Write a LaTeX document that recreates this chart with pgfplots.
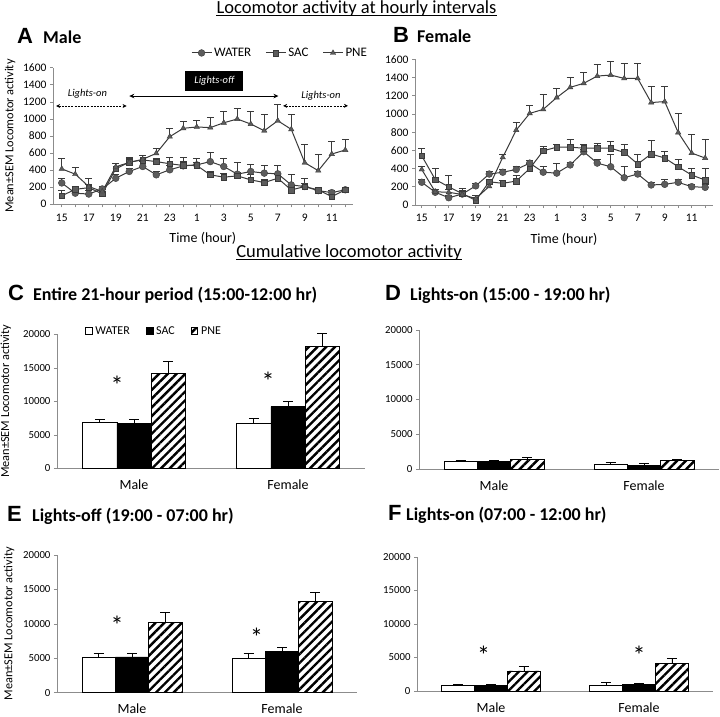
\documentclass[border=0pt]{standalone}
\usepackage{pgfplots}
\pgfplotsset{compat=1.18}
\usepackage{pgfplotstable}
\usepackage{fontspec}
\setmainfont{Carlito}
\newfontfamily\arialfont{Liberation Sans}
\usetikzlibrary{patterns.meta,arrows.meta}

\definecolor{ln}{HTML}{3A3A3A}
\definecolor{mk}{HTML}{5C5C5C}
\definecolor{axg}{HTML}{8C8C8C}

% hourly data, x = hour index (0 = 15:00 ... 21 = 12:00)
\pgfplotstableread{
x W We S Se P Pe
0 250 50 100 60 415 125
1 130 40 175 40 353 75
2 120 40 195 40 208 95
3 180 30 122 30 150 30
4 305 40 416 60 440 40
5 385 40 494 40 490 60
6 443 60 520 50 527 50
7 345 40 500 40 597 60
8 404 50 475 75 792 100
9 450 95 455 50 890 85
10 462 80 455 40 906 80
11 500 110 345 40 898 125
12 443 100 318 40 955 135
13 353 135 333 40 999 130
14 384 80 286 60 940 145
15 365 95 255 40 862 190
16 357 100 305 50 979 190
17 227 125 168 40 878 180
18 208 100 208 40 487 215
19 160 30 168 30 394 185
20 137 30 90 30 589 145
21 170 20 170 20 636 120
}\maledata

\pgfplotstableread{
x W We S Se P Pe
0 250 30 540 85 390 30
1 140 30 280 120 145 30
2 80 30 200 120 140 30
3 120 30 125 60 115 40
4 210 30 50 60 70 30
5 340 30 255 30 205 30
6 360 30 238 30 523 30
7 390 30 263 60 823 80
8 460 30 400 60 1006 85
9 360 60 595 50 1050 160
10 350 110 635 30 1180 95
11 440 30 635 85 1292 110
12 585 30 624 40 1336 120
13 460 40 624 50 1416 130
14 420 140 624 70 1427 155
15 300 125 577 90 1390 160
16 340 30 450 110 1390 165
17 220 30 560 145 1125 175
18 227 50 516 70 1136 165
19 249 30 420 80 796 210
20 201 30 329 75 570 210
21 194 30 274 130 516 205
}\femaledata

\pgfplotsset{
  linepanel/.style={
    scale only axis, anchor=south west, clip=false,
    axis x line*=bottom, axis y line*=left,
    axis line style={line width=0.6pt, draw=axg},
    ymin=0, ymax=1600, ytick={0,200,...,1600},
    xtick={0,2,...,20}, xticklabels={15,17,19,21,23,1,3,5,7,9,11},
    minor xtick={1,3,...,21},
    tick align=outside, major tick length=3pt, minor tick length=3pt,
    tick style={draw=axg, line width=0.6pt},
    ticklabel style={font=\fontsize{11.5}{13}\selectfont},
    xticklabel style={yshift=-3pt},
    /pgf/number format/assume math mode=true,
    /pgf/number format/1000 sep={},
    xlabel={Time (hour)},
    xlabel style={font=\fontsize{14}{16}\selectfont, yshift=-4pt},
  },
  hourly/.style={ln, line width=1pt,
    error bars/y dir=plus, error bars/y explicit,
    error bars/error bar style={ln, line width=0.8pt},
    error bars/error mark options={rotate=90, ln, mark size=3.5pt, line width=0.8pt}},
  water/.style={hourly, mark=*, mark size=3.4pt, mark options={fill=mk, draw=ln, line width=0.4pt}},
  sac/.style={hourly, mark=square*, mark size=2.8pt, mark options={fill=mk, draw=ln, line width=0.4pt}},
  pne/.style={hourly, mark=triangle*, mark size=3.1pt, mark options={fill=mk, draw=ln, line width=0.4pt}},
  barpanel/.style={
    scale only axis, anchor=south west, clip=false,
    ybar=0pt,
    axis x line*=bottom, axis y line*=left,
    axis line style={line width=0.6pt, draw=axg},
    ymin=0, ymax=20000, ytick={0,5000,...,20000},
    scaled y ticks=false,
    xmin=-0.5, xmax=1.5, xtick={0,1}, xticklabels={Male,Female},
    x tick style={draw=none},
    y tick style={draw=axg, line width=0.6pt},
    tick align=outside, major tick length=3pt,
    yticklabel style={font=\fontsize{10.8}{12}\selectfont},
    xticklabel style={font=\fontsize{14}{16}\selectfont, yshift=-5pt},
    /pgf/number format/assume math mode=true,
    /pgf/number format/1000 sep={},
  },
  sqlegend/.style={legend image code/.code={\draw[##1, line width=0.6pt] (0pt,-3.3pt) rectangle (6.7pt,3.3pt);}},
  barerr/.style={error bars/y dir=plus, error bars/y explicit,
    error bars/error bar style={black, line width=0.8pt},
    error bars/error mark options={rotate=90, black, mark size=5pt, line width=0.8pt}},
  wbar/.style={fill=white, draw=black, line width=0.8pt, barerr, sqlegend},
  sbar/.style={fill=black, draw=black, line width=0.8pt, barerr, sqlegend},
  pbar/.style={draw=black, line width=0.8pt, pattern={Lines[angle=45,distance=6.2pt,line width=2.4pt]}, barerr, sqlegend},
}
\tikzset{sigstar/.style={font=\fontsize{26}{26}\selectfont, yshift=-4pt}}

\newcommand{\ttl}{\fontsize{18}{20}\selectfont\bfseries}
\newcommand{\ltr}{\arialfont\bfseries\fontsize{22}{24}\selectfont}
\newcommand{\ylab}{Mean±SEM Locomotor activity}

\begin{document}
\begin{tikzpicture}
\useasboundingbox (0,0) rectangle (720pt,-717pt);

% headings
\node[anchor=base, inner sep=0, font=\fontsize{18.5}{20}\selectfont] (h1) at (356.5pt,-13.3pt) {Locomotor activity at hourly intervals};
\draw[line width=0.7pt] ([yshift=-2pt]h1.base west) -- ([yshift=-2pt]h1.base east);
\node[anchor=base, inner sep=0, font=\fontsize{18.5}{20}\selectfont] (h2) at (349pt,-257pt) {Cumulative locomotor activity};
\draw[line width=0.7pt] ([yshift=-2.5pt]h2.base west) -- ([yshift=-2.5pt]h2.base east);

\node[anchor=base west, inner sep=0, font=\ltr] at (17pt,-43.3pt) {A};
\node[anchor=base west, inner sep=0, font=\ttl] at (43pt,-43.3pt) {Male};
\node[anchor=base west, inner sep=0, font=\ltr] at (393pt,-42.7pt) {B};
\node[anchor=base west, inner sep=0, font=\ttl] at (417pt,-42.7pt) {Female};
\node[anchor=base west, inner sep=0, font=\ltr] at (8pt,-300pt) {C};
\node[anchor=base west, inner sep=0, font=\ttl] at (33pt,-300pt) {Entire 21-hour period (15:00-12:00 hr)};
\node[anchor=base west, inner sep=0, font=\ltr] at (385pt,-300pt) {D};
\node[anchor=base west, inner sep=0, font=\ttl] at (410pt,-300pt) {Lights-on (15:00 - 19:00 hr)};
\node[anchor=base west, inner sep=0, font=\ltr] at (7pt,-521.7pt) {E};
\node[anchor=base west, inner sep=0, font=\ttl] at (32pt,-521.7pt) {Lights-off (19:00 - 07:00 hr)};
\node[anchor=base west, inner sep=0, font=\ltr] at (388pt,-520pt) {F};
\node[anchor=base west, inner sep=0, font=\ttl] at (406pt,-520pt) {Lights-on (07:00 - 12:00 hr)};

% A: male hourly
\begin{axis}[linepanel, at={(53pt,-204.3pt)}, width=299.7pt, height=136.6pt,
  xmin=-0.65, xmax=21.55,
  ylabel={\ylab},
  ylabel style={at={(axis description cs:-0.1435,0.5)}, anchor=center, font=\fontsize{12.3}{14}\selectfont},
  legend columns=3,
  legend style={draw=none, fill=none, at={(0.45,1.108)}, anchor=west,
    font=\fontsize{13}{15}\selectfont,
    /tikz/every even column/.append style={column sep=12pt}},
  legend image code/.code={\draw[mark repeat=2,mark phase=2,#1] plot coordinates {(0pt,0pt) (10pt,0pt) (20pt,0pt)};},
]
\addplot[water] table[x=x, y=W, y error=We] {\maledata};
\addplot[sac] table[x=x, y=S, y error=Se] {\maledata};
\addplot[pne] table[x=x, y=P, y error=Pe] {\maledata};
\legend{WATER, SAC, PNE}
\draw[<->, >={Stealth[length=5pt,width=4.5pt]}, line width=0.8pt] (axis cs:5.0,1268) -- (axis cs:16.05,1268);
\draw[<->, >={Stealth[length=4pt,width=4pt]}, line width=0.7pt, dash pattern=on 2pt off 1.2pt] (axis cs:-0.42,1151) -- (axis cs:4.8,1151);
\draw[<->, >={Stealth[length=4pt,width=4pt]}, line width=0.7pt, dash pattern=on 2pt off 1.2pt] (axis cs:16.4,1153) -- (axis cs:21.2,1153);
\node[font=\itshape\fontsize{10.5}{12}\selectfont] at (axis cs:1.9,1291) {Lights-on};
\node[font=\itshape\fontsize{10.5}{12}\selectfont] at (axis cs:19.2,1270) {Lights-on};
\node[fill=black, text=white, font=\itshape\fontsize{10.5}{12}\selectfont, minimum width=58pt, minimum height=20pt, inner sep=0] at (axis cs:11.3,1450) {Lights-off};
\end{axis}

% B: female hourly
\begin{axis}[linepanel, at={(415pt,-205pt)}, width=298pt, height=145.7pt,
  xmin=-0.5, xmax=21.58]
\addplot[water] table[x=x, y=W, y error=We] {\femaledata};
\addplot[sac] table[x=x, y=S, y error=Se] {\femaledata};
\addplot[pne] table[x=x, y=P, y error=Pe] {\femaledata};
\end{axis}

% C: entire period
\begin{axis}[barpanel, at={(57pt,-468.3pt)}, width=308pt, height=134pt, bar width=34.2pt,
  ylabel={\ylab},
  ylabel style={at={(axis description cs:-0.166,0.5)}, anchor=center, font=\fontsize{12.3}{14}\selectfont},
  legend columns=3,
  legend style={draw=none, fill=none, at={(0.081,1.025)}, anchor=west,
    font=\fontsize{12}{14}\selectfont,
    /tikz/every odd column/.append style={column sep=1pt},
    /tikz/every even column/.append style={column sep=14pt}},
]
\addplot[wbar] coordinates {(0,6800) +- (0,500) (1,6700) +- (0,750)};
\addplot[sbar] coordinates {(0,6700) +- (0,600) (1,9200) +- (0,750)};
\addplot[pbar] coordinates {(0,14200) +- (0,1750) (1,18200) +- (0,1900)};
\legend{WATER, SAC, PNE}
\node[sigstar] at (axis cs:-0.11,13000) {*};
\node[sigstar] at (axis cs:0.87,13600) {*};
\end{axis}

% D: lights-on 15-19
\begin{axis}[barpanel, at={(419pt,-469pt)}, width=300pt, height=139pt, bar width=33.3pt]
\addplot[wbar] coordinates {(0,1050) +- (0,170) (1,600) +- (0,300)};
\addplot[sbar] coordinates {(0,1050) +- (0,170) (1,550) +- (0,190)};
\addplot[pbar] coordinates {(0,1350) +- (0,280) (1,1200) +- (0,130)};
\end{axis}

% E: lights-off 19-07
\begin{axis}[barpanel, at={(57pt,-692.7pt)}, width=300pt, height=137.7pt, bar width=33.3pt,
  ylabel={\ylab},
  ylabel style={at={(axis description cs:-0.16,0.5)}, anchor=center, font=\fontsize{12.3}{14}\selectfont},
]
\addplot[wbar] coordinates {(0,5200) +- (0,580) (1,5050) +- (0,720)};
\addplot[sbar] coordinates {(0,5200) +- (0,580) (1,5950) +- (0,630)};
\addplot[pbar] coordinates {(0,10150) +- (0,1500) (1,13200) +- (0,1300)};
\node[sigstar] at (axis cs:-0.1,10400) {*};
\node[sigstar] at (axis cs:0.83,8700) {*};
\end{axis}

% F: lights-on 07-12
\begin{axis}[barpanel, at={(417pt,-691pt)}, width=296pt, height=134pt, bar width=32.9pt]
\addplot[wbar] coordinates {(0,800) +- (0,200) (1,900) +- (0,400)};
\addplot[sbar] coordinates {(0,800) +- (0,200) (1,1000) +- (0,200)};
\addplot[pbar] coordinates {(0,3000) +- (0,650) (1,4050) +- (0,850)};
\node[sigstar] at (axis cs:-0.05,6000) {*};
\node[sigstar] at (axis cs:1.0,6000) {*};
\end{axis}
\end{tikzpicture}
\end{document}
